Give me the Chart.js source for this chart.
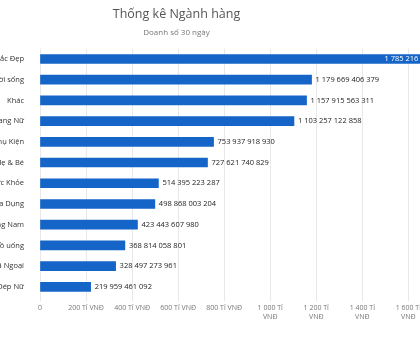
<!DOCTYPE html>
<html>
<head>
<meta charset="utf-8">
<script src="https://cdn.jsdelivr.net/npm/chart.js@4"></script>
<style>
  body { margin: 0; background: #fff; overflow: hidden; width: 420px; height: 345px; position: relative; }
  #wrap { position: absolute; left: -110px; top: 0; width: 580px; height: 345px; }
</style>
</head>
<body>
<div id="wrap"><canvas id="chart"></canvas></div>
<script>
// Dữ liệu
var categories = [
  "Sắc Đẹp",
  "Nhà Cửa & Đời sống",
  "Khác",
  "Thời Trang Nữ",
  "Điện Thoại & Phụ Kiện",
  "Mẹ & Bé",
  "Sức Khỏe",
  "Thiết Bị Điện Gia Dụng",
  "Thời Trang Nam",
  "Thực phẩm và đồ uống",
  "Thể Thao & Dã Ngoại",
  "Giày Dép Nữ",
];
var revenue = [
  1785216384512, 1179669406379, 1157915563311, 1103257122858,
  753937918930, 727621740829, 514395223287, 498868003204,
  423443607980, 368814058801, 328497273961, 219959461092,
];
var tickStepTi = 200;
var maxTi = 1800;

function fmt(n) {
  return String(n).replace(/\B(?=(\d{3})+(?!\d))/g, " ");
}

var FONT = "'Open Sans', 'Noto Sans', sans-serif";

// Nhãn giá trị ở cuối thanh
var valueLabels = {
  id: "valueLabels",
  afterDatasetsDraw: function (chart) {
    var ctx = chart.ctx;
    var area = chart.chartArea;
    var meta = chart.getDatasetMeta(0);
    ctx.save();
    ctx.font = "7.5px " + FONT;
    ctx.textBaseline = "middle";
    meta.data.forEach(function (bar, i) {
      var text = fmt(revenue[i]);
      var w = ctx.measureText(text).width;
      if (bar.x + 4 + w < area.right) {
        ctx.fillStyle = "#222";
        ctx.textAlign = "left";
        ctx.fillText(text, bar.x + 4, bar.y);
      } else {
        ctx.fillStyle = "#fff";
        ctx.textAlign = "right";
        ctx.fillText(text, bar.x - 3, bar.y);
      }
    });
    ctx.restore();
  },
};

new Chart(document.getElementById("chart"), {
  type: "bar",
  data: {
    labels: categories,
    datasets: [
      {
        label: "Doanh số",
        data: revenue,
        backgroundColor: "#1565C8",
        borderWidth: 0,
        barThickness: 9,
      },
    ],
  },
  plugins: [valueLabels],
  options: {
    indexAxis: "y",
    responsive: true,
    maintainAspectRatio: false,
    animation: false,
    layout: { padding: { left: 0, right: 7, bottom: 21 } },
    plugins: {
      legend: { display: false },
      tooltip: { enabled: false },
      title: {
        display: true,
        text: "Thống kê Ngành hàng",
        color: "#555",
        font: { family: FONT, size: 12.5, weight: "normal" },
        padding: { top: 7, bottom: 6 },
      },
      subtitle: {
        display: true,
        text: "Doanh số 30 ngày",
        color: "#777",
        font: { family: FONT, size: 8, weight: "normal" },
        padding: { bottom: 11 },
      },
    },
    scales: {
      y: {
        grid: { display: false },
        border: { display: false },
        ticks: {
          color: "#333",
          padding: 8,
          font: { family: FONT, size: 7.5 },
        },
        afterFit: function (scale) {
          scale.width = 150;
        },
      },
      x: {
        min: 0,
        max: maxTi * 1e9,
        border: { display: false },
        grid: { color: "#e8e8e8", tickLength: 4 },
        ticks: {
          stepSize: tickStepTi * 1e9,
          autoSkip: false,
          maxRotation: 0,
          color: "#777",
          font: { family: FONT, size: 7 },
          padding: 3,
          callback: function (value) {
            var v = Math.round(value / 1e9);
            if (v === 0) return "0";
            if (v >= 1000) return [fmt(v) + " Tỉ", "VNĐ"];
            return fmt(v) + " Tỉ VNĐ";
          },
        },
      },
    },
  },
});
</script>
</body>
</html>
